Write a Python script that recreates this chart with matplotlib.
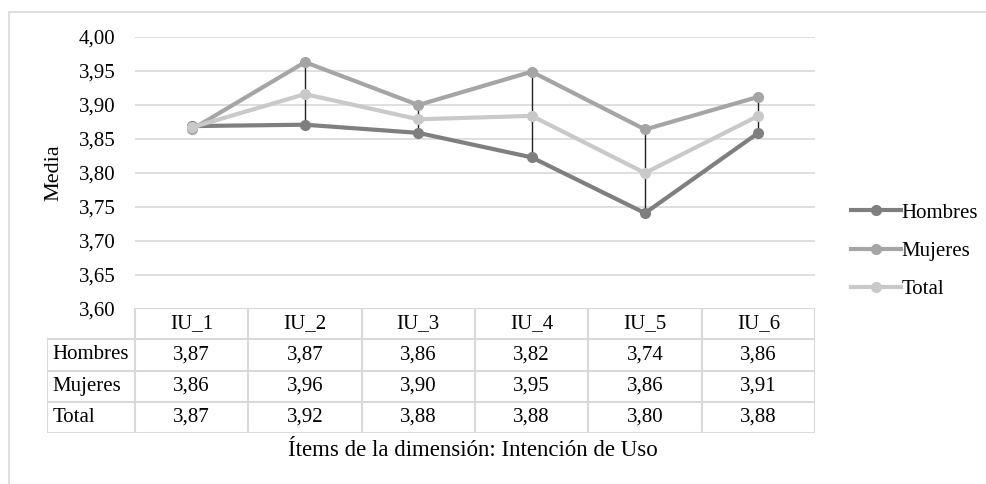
import numpy as np
import matplotlib.pyplot as plt
from matplotlib.patches import Rectangle

plt.rcParams['font.family'] = ['Liberation Serif', 'DejaVu Serif']

# datos
items = ['IU_1', 'IU_2', 'IU_3', 'IU_4', 'IU_5', 'IU_6']
hombres = [3.869, 3.871, 3.859, 3.823, 3.741, 3.859]
mujeres = [3.864, 3.963, 3.900, 3.949, 3.864, 3.912]
total = [3.867, 3.916, 3.879, 3.884, 3.800, 3.884]
series = ['Hombres', 'Mujeres', 'Total']
colores = ['#7f7f7f', '#a5a5a5', '#c9c9c9']

W, H = 987, 484
fig = plt.figure(figsize=(W / 100, H / 100), dpi=100)
fs = 15
gridc = '#d9d9d9'

# marco exterior
fig.patches.append(Rectangle((9 / W, -0.1), 1.2, 1 - 12 / H + 0.1, transform=fig.transFigure,
                             fill=False, edgecolor='#d9d9d9', linewidth=1.2))

# grafico
ax = fig.add_axes([135 / W, 175 / H, 680 / W, 272 / H])
x = np.arange(len(items))
vals = [hombres, mujeres, total]
ax.vlines(x, np.min(vals, axis=0), np.max(vals, axis=0), color='#222222', linewidth=1, zorder=2)
for v, nombre, c in zip(vals, series, colores):
    ax.plot(x, v, color=c, linewidth=3, marker='o', markersize=7, label=nombre, zorder=3)

ax.set_xlim(-0.5, len(items) - 0.5)
ax.set_ylim(3.60, 4.00)
ax.set_yticks(np.arange(3.60, 4.001, 0.05))
ax.set_yticklabels([f'{t:.2f}'.replace('.', ',') for t in np.arange(3.60, 4.001, 0.05)], fontsize=fs)
ax.set_xticks([])
ax.grid(axis='y', color=gridc, linewidth=1.2)
ax.set_axisbelow(True)
ax.tick_params(axis='y', length=0, pad=14)
for s in ax.spines.values():
    s.set_visible(False)
ax.set_ylabel('Media', fontsize=16, labelpad=11)

ax.legend(loc='center left', bbox_to_anchor=(1.041, 0.213), frameon=False, fontsize=fs,
          handlelength=2.4, handletextpad=0.0, labelspacing=0.9, borderaxespad=0)

# tabla de datos
rw = 88 / 113.3
tb = fig.add_axes([47 / W, (H - 433) / H, 768 / W, 125 / H])
tb.set_xlim(-0.5 - rw, len(items) - 0.5)
tb.set_ylim(4, 0)
tb.axis('off')
tb.hlines(0, -0.5, len(items) - 0.5, color=gridc, linewidth=1.5)
tb.hlines([1, 2, 3, 4], -0.5 - rw, len(items) - 0.5, color=gridc, linewidth=1.5)
tb.vlines(-0.5 - rw, 1, 4, color=gridc, linewidth=1.5)
tb.vlines(np.arange(len(items) + 1) - 0.5, 0, 4, color=gridc, linewidth=1.5)
for i, it in enumerate(items):
    tb.text(i, 0.5, it, ha='center', va='center', fontsize=fs)
for r, (nombre, v) in enumerate(zip(series, vals)):
    tb.text(-0.5 - rw + 0.05, r + 1.5, nombre, ha='left', va='center', fontsize=fs)
    for i, val in enumerate(v):
        tb.text(i, r + 1.5, f'{val:.2f}'.replace('.', ','), ha='center', va='center', fontsize=fs)

fig.text(473 / W, 1 - 451 / H, 'Ítems de la dimensión: Intención de Uso', ha='center', va='center', fontsize=16.5)

plt.savefig('out.png', dpi=100)
